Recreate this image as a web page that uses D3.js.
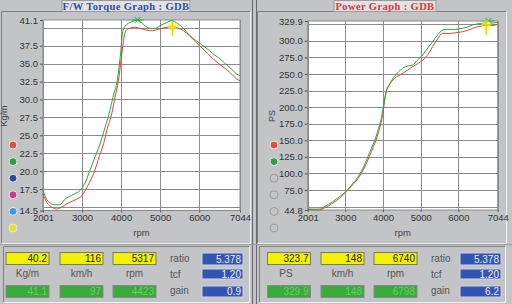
<!DOCTYPE html>
<html>
<head>
<meta charset="utf-8">
<script src="https://cdn.jsdelivr.net/npm/d3@7"></script>
<style>
  body { margin: 0; background: #c2c4c6; }
  svg { display: block; }
  .tick text { font-family: "Liberation Sans", Arial, sans-serif; font-size: 9.5px; fill: #333; }
  .tick line { stroke: #555; }
</style>
</head>
<body>
<div id="vis"></div>
<script>
const WIDTH = 512;
const HEIGHT = 304;

// torque (Kg/m) vs rpm
const TQ_RED_RPM = [2001, 2100, 2250, 2350, 2450, 2600, 2750, 2900, 3000, 3150, 3300, 3450, 3550, 3650, 3760, 3850, 3930, 4000, 4070, 4120, 4200, 4350, 4500, 4650, 4800, 4950, 5100, 5317, 5450, 5600, 5750, 5900, 6050, 6200, 6350, 6500, 6650, 6800, 6950, 7044];
const TQ_RED = [16.8, 15.6, 14.9, 14.7, 14.9, 15.4, 15.8, 16.2, 16.6, 18.0, 19.7, 22.2, 23.8, 26.0, 28.0, 30.5, 32.6, 35.5, 38.5, 39.6, 39.9, 40.1, 39.9, 39.7, 39.6, 39.8, 40.0, 40.2, 40.0, 39.6, 38.9, 38.1, 37.3, 36.5, 35.7, 35.0, 34.4, 33.7, 32.9, 32.6];
const TQ_GREEN_RPM = [2001, 2100, 2200, 2300, 2430, 2550, 2650, 2800, 2950, 3100, 3200, 3350, 3460, 3600, 3716, 3800, 3903, 3980, 4050, 4150, 4300, 4423, 4550, 4700, 4850, 5000, 5150, 5295, 5450, 5600, 5750, 5900, 6050, 6200, 6350, 6500, 6650, 6800, 6950, 7044];
const TQ_GREEN = [17.3, 16.0, 15.5, 15.3, 15.3, 16.0, 16.4, 16.8, 17.3, 18.6, 20.1, 22.2, 23.8, 26.3, 28.5, 30.5, 32.7, 36.0, 39.7, 40.5, 40.9, 41.1, 40.6, 40.0, 39.9, 40.3, 40.7, 41.0, 40.6, 39.9, 39.0, 38.3, 37.7, 37.1, 36.4, 35.8, 35.1, 34.4, 33.6, 33.3];

// power (PS) vs rpm
const PW_RED_RPM = [2001, 2150, 2309, 2450, 2664, 2850, 3017, 3200, 3371, 3500, 3636, 3750, 3814, 3900, 3946, 4000, 4050, 4100, 4167, 4300, 4522, 4787, 5052, 5200, 5318, 5450, 5583, 5750, 5900, 6114, 6250, 6380, 6550, 6740, 6900, 7044];
const PW_RED = [45.5, 45.0, 44.8, 48, 54.9, 63, 72.5, 83, 95.1, 108, 125.2, 141, 150.4, 166, 175.6, 192, 212, 226, 233.4, 243, 251, 261, 271, 280, 291.3, 303, 311.3, 311, 312, 313.8, 316, 318.9, 321.5, 323.7, 323, 325];
const PW_GREEN_RPM = [2001, 2150, 2309, 2450, 2664, 2850, 3017, 3200, 3371, 3500, 3636, 3750, 3814, 3900, 3946, 4000, 4053, 4120, 4185, 4300, 4522, 4650, 4787, 4900, 5052, 5200, 5318, 5450, 5583, 5700, 5849, 6000, 6114, 6250, 6380, 6550, 6733, 6798, 6900, 7044];
const PW_GREEN = [46.5, 46, 46.2, 50, 57.4, 65, 72.5, 85, 97.6, 112, 130.3, 146, 155.4, 172, 180.6, 198, 216, 229, 236, 246, 258.6, 262, 263.5, 270, 278.6, 290, 298.8, 309, 316.3, 317.5, 317, 318, 318.9, 321, 323.9, 326, 327.4, 329.9, 327, 327.5];

const X_TICKS = [2001, 3000, 4000, 5000, 6000, 7044];
const TQ_TICKS = [41.1, 37.5, 35.0, 32.5, 30.0, 27.5, 25.0, 22.5, 20.0, 17.5, 14.5];
const TQ_GRID = [40, 37.5, 35, 32.5, 30, 27.5, 25, 22.5, 20, 17.5, 15];
const PW_TICKS = [329.9, 300, 275, 250, 225, 200, 175, 150, 125, 100, 75, 44.8];
const PW_GRID = [325, 300, 275, 250, 225, 200, 175, 150, 125, 100, 75, 50];

// readout boxes
const TQ_YELLOW = ["40.2", "116", "5317"];
const TQ_GREEN_VALS = ["41.1", "97", "4423"];
const TQ_BLUE = ["5.378", "1.20", "0.9"];
const PW_YELLOW = ["323.7", "148", "6740"];
const PW_GREEN_VALS = ["329.9", "148", "6798"];
const PW_BLUE = ["5.378", "1.20", "6.2"];
const UNIT_LABELS_TQ = ["Kg/m", "km/h", "rpm"];
const UNIT_LABELS_PW = ["PS", "km/h", "rpm"];
const SIDE_LABELS = ["ratio", "tcf", "gain"];

const TQ_DOTS = ["#e0503c", "#2ea040", "#2c4a9a", "#d0388c", "#3a9ae0", "#f0e020"];
const PW_DOTS = ["#e0503c", "#2ea040", "none", "none", "none", "none"];

const svg = d3.select("#vis").append("svg")
    .attr("width", WIDTH)
    .attr("height", HEIGHT);

svg.append("rect").attr("width", WIDTH).attr("height", HEIGHT).attr("fill", "#c2c4c6");

function bevel(g, x, y, w, h, dark, light) {
    g.append("path").attr("d", `M${x},${y + h}V${y}H${x + w}`).attr("fill", "none").attr("stroke", dark);
    g.append("path").attr("d", `M${x + w},${y}V${y + h}H${x}`).attr("fill", "none").attr("stroke", light);
}

function drawPanel(cfg) {
    const g = svg.append("g").attr("transform", `translate(${cfg.ox},0)`);

    // frames
    bevel(g, 1.5, 11.5, 249, 232, "#808080", "#f0f0f0");
    bevel(g, 3.5, 246.5, 246, 56, "#808080", "#f0f0f0");

    // title tab
    g.append("rect").attr("x", cfg.tab[0]).attr("y", 0.5).attr("width", cfg.tab[1]).attr("height", 11)
        .attr("fill", "#e2e2e4").attr("stroke", "#9a9a9a");
    g.append("text").attr("x", cfg.tab[0] + cfg.tab[1] / 2).attr("y", 9.5)
        .attr("text-anchor", "middle")
        .attr("font-family", "'Liberation Serif', 'DejaVu Serif', serif")
        .attr("font-weight", "bold").attr("font-size", 10.5).attr("letter-spacing", 0.4)
        .attr("fill", cfg.titleColor).text(cfg.title);

    const X = d3.scaleLinear().domain([2001, 7044]).range([cfg.plot.left, cfg.plot.right]);
    const Y = d3.scaleLinear().domain(cfg.yDomain).range([cfg.plot.bottom, cfg.plot.top]);

    g.append("rect").attr("x", cfg.plot.left).attr("y", cfg.plot.top)
        .attr("width", cfg.plot.right - cfg.plot.left).attr("height", cfg.plot.bottom - cfg.plot.top)
        .attr("fill", "#ffffff").attr("stroke", "#8a8a8a");

    g.selectAll(".hgrid").data(cfg.grid).enter().append("line")
        .attr("x1", cfg.plot.left).attr("x2", cfg.plot.right)
        .attr("y1", d => Math.round(Y(d)) + 0.5).attr("y2", d => Math.round(Y(d)) + 0.5)
        .attr("stroke", "#8c8c8c");
    g.selectAll(".vgrid").data(X_TICKS).enter().append("line")
        .attr("x1", d => Math.round(X(d)) + 0.5).attr("x2", d => Math.round(X(d)) + 0.5)
        .attr("y1", cfg.plot.top).attr("y2", cfg.plot.bottom)
        .attr("stroke", "#8c8c8c");

    g.append("g").attr("transform", `translate(${cfg.plot.left},0)`)
        .call(d3.axisLeft(Y).tickValues(cfg.ticks).tickFormat(d3.format(".1f")).tickSize(3).tickPadding(2))
        .call(a => a.select(".domain").remove());
    g.append("g").attr("transform", `translate(0,${cfg.plot.bottom})`)
        .call(d3.axisBottom(X).tickValues(X_TICKS).tickFormat(d3.format("d")).tickSize(2).tickPadding(2))
        .call(a => a.select(".domain").remove());

    g.append("text").attr("x", (cfg.plot.left + cfg.plot.right) / 2).attr("y", 236)
        .attr("text-anchor", "middle").attr("font-family", "'Liberation Sans', Arial, sans-serif")
        .attr("font-size", 9.5).attr("fill", "#444").text("rpm");
    g.append("text").attr("transform", `translate(${cfg.yLabelX},116) rotate(-90)`)
        .attr("text-anchor", "middle").attr("font-family", "'Liberation Sans', Arial, sans-serif")
        .attr("font-size", 9).attr("fill", "#444").text(cfg.yLabel);

    // legend dots
    cfg.dots.forEach((c, i) => {
        g.append("circle").attr("cx", cfg.dotX).attr("cy", 145 + i * 16.6).attr("r", 4)
            .attr("fill", c === "none" ? "none" : c)
            .attr("stroke", c === "none" ? "#9a9a9a" : "#e8e8e8").attr("stroke-width", 1);
    });

    const line = d3.line().x(d => X(d[0])).y(d => Y(d[1])).curve(d3.curveMonotoneX);
    g.append("path").datum(d3.zip(cfg.redRpm, cfg.red)).attr("d", line)
        .attr("fill", "none").attr("stroke", "#e4423a").attr("stroke-width", 1);
    g.append("path").datum(d3.zip(cfg.greenRpm, cfg.green)).attr("d", line)
        .attr("fill", "none").attr("stroke", "#28a838").attr("stroke-width", 1);

    // cursors
    const gx = X(+cfg.greenVals[2]), gy = Y(+cfg.greenVals[0]);
    g.append("path").attr("d", `M${gx - 6},${gy}H${gx + 6}M${gx - 3},${gy - 3}L${gx + 3},${gy + 3}M${gx + 3},${gy - 3}L${gx - 3},${gy + 3}`)
        .attr("stroke", "#28a838").attr("fill", "none");
    const yx = X(+cfg.yellow[2]), yy = Y(+cfg.yellow[0]);
    g.append("circle").attr("cx", yx).attr("cy", yy).attr("r", 5).attr("fill", "#f4f040").attr("opacity", 0.5);
    g.append("path").attr("d", `M${yx - 4},${yy}H${yx + 4}M${yx},${yy - 5}V${yy + 10}`)
        .attr("stroke", "#e8d800").attr("stroke-width", 1.5).attr("fill", "none");

    // readouts
    const font = "'Liberation Sans', Arial, sans-serif";
    cfg.boxX.forEach((bx, i) => {
        g.append("rect").attr("x", bx).attr("y", 252.5).attr("width", 43).attr("height", 12)
            .attr("fill", "#f2f200").attr("stroke", "#777");
        g.append("text").attr("x", bx + 41).attr("y", 262).attr("text-anchor", "end")
            .attr("font-family", font).attr("font-size", 10).attr("fill", "#222").text(cfg.yellow[i]);
        g.append("text").attr("x", bx + 21.5 + cfg.unitShift[i]).attr("y", 277).attr("text-anchor", "middle")
            .attr("font-family", font).attr("font-size", 10).attr("fill", "#555").text(cfg.units[i]);
        g.append("rect").attr("x", bx).attr("y", 285.5).attr("width", 43).attr("height", 12)
            .attr("fill", "#3aaa3a").attr("stroke", "#8a8a8a");
        g.append("text").attr("x", bx + 41).attr("y", 295).attr("text-anchor", "end")
            .attr("font-family", font).attr("font-size", 10).attr("fill", "#6ccc6c").text(cfg.greenVals[i]);
    });
    SIDE_LABELS.forEach((s, i) => {
        g.append("text").attr("x", cfg.sideX).attr("y", [262, 278, 294][i])
            .attr("font-family", font).attr("font-size", 10).attr("fill", "#555").text(s);
        g.append("rect").attr("x", cfg.blueX).attr("y", [253, 269, 286][i]).attr("width", 41)
            .attr("height", [12, 10, 11][i]).attr("fill", "#3454b4").attr("stroke", "#d0d4e8");
        g.append("text").attr("x", cfg.blueX + 39).attr("y", [263, 277.5, 295][i]).attr("text-anchor", "end")
            .attr("font-family", font).attr("font-size", 10).attr("fill", "#e8ecff").text(cfg.blue[i]);
    });
}

drawPanel({
    ox: 0, title: "F/W Torque Graph : GDB", titleColor: "#2d4fa8", tab: [62, 128],
    plot: {left: 43, right: 240, top: 20, bottom: 210.5},
    yDomain: [14.5, 41.1], ticks: TQ_TICKS, grid: TQ_GRID, yLabel: "Kg/m", yLabelX: 7,
    dots: TQ_DOTS, dotX: 13,
    redRpm: TQ_RED_RPM, red: TQ_RED, greenRpm: TQ_GREEN_RPM, green: TQ_GREEN,
    yellow: TQ_YELLOW, greenVals: TQ_GREEN_VALS, blue: TQ_BLUE, units: UNIT_LABELS_TQ,
    boxX: [6, 60, 113], unitShift: [0, 0, 0], sideX: 170, blueX: 202
});

drawPanel({
    ox: 256, title: "Power Graph : GDB", titleColor: "#d83a30", tab: [78, 102],
    plot: {left: 51.7, right: 241.7, top: 21, bottom: 210},
    yDomain: [44.8, 329.9], ticks: PW_TICKS, grid: PW_GRID, yLabel: "PS", yLabelX: 19,
    dots: PW_DOTS, dotX: 18,
    redRpm: PW_RED_RPM, red: PW_RED, greenRpm: PW_GREEN_RPM, green: PW_GREEN,
    yellow: PW_YELLOW, greenVals: PW_GREEN_VALS, blue: PW_BLUE, units: UNIT_LABELS_PW,
    boxX: [11.5, 65, 118], unitShift: [-3, 0, 0], sideX: 175, blueX: 204
});

// centre divider
svg.append("line").attr("x1", 252.5).attr("x2", 252.5).attr("y1", 0).attr("y2", HEIGHT).attr("stroke", "#6a6a6a");
svg.append("line").attr("x1", 256.5).attr("x2", 256.5).attr("y1", 0).attr("y2", HEIGHT).attr("stroke", "#6a6a6a");
svg.append("line").attr("x1", 0).attr("x2", WIDTH).attr("y1", 244.5).attr("y2", 244.5).attr("stroke", "#9a9a9a");
</script>
</body>
</html>
